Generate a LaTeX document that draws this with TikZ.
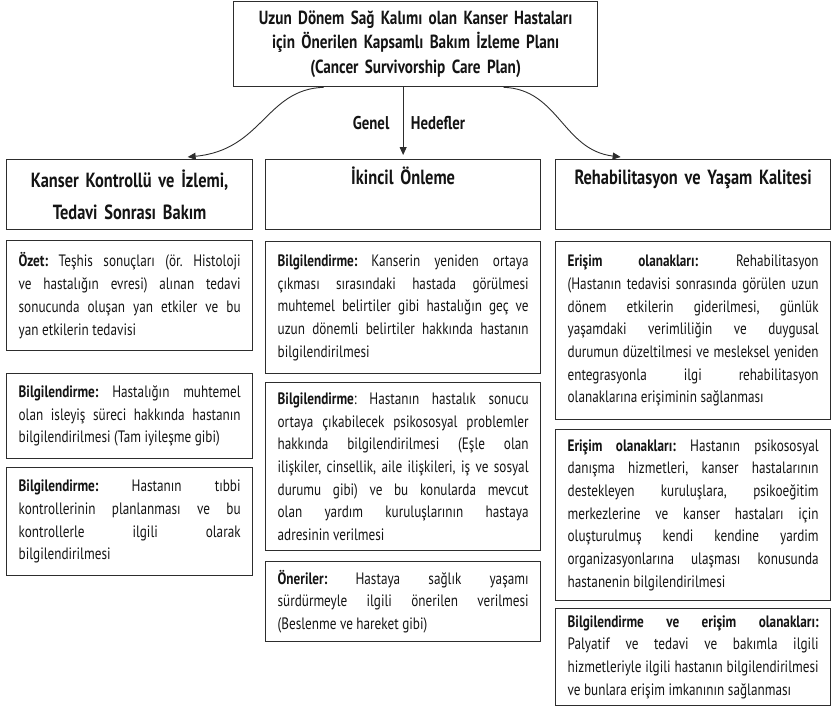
\documentclass[tikz,border=0pt]{standalone}
\usepackage{fontspec}
\setmainfont{PT Sans}[FakeStretch=0.8]
\usetikzlibrary{arrows.meta,positioning,calc}
\definecolor{boxline}{RGB}{45,45,45}
\definecolor{inktext}{RGB}{20,20,20}
\newcommand{\bodyfont}{\fontsize{16.5}{22.7}\selectfont}
\newcommand{\headfont}{\fontsize{20.5}{32}\selectfont\bfseries}
\setlength{\parindent}{0pt}
\frenchspacing
\hyphenpenalty=10000
\exhyphenpenalty=10000
\tolerance=9999
\emergencystretch=20pt

\begin{document}
\begin{tikzpicture}[x=1pt,y=-1pt,
  every node/.append style={text=inktext},
  plan/.style={draw=boxline, line width=1.3pt, anchor=north west, inner xsep=10pt, align=center, font=\fontsize{19}{24.5}\selectfont\bfseries},
  headbox/.style={draw=boxline, line width=1.3pt, anchor=north west, align=center, inner xsep=8pt, inner ysep=6pt, minimum height=70pt, font=\headfont},
  oneline/.style={text height=19pt, text depth=39pt},
  infobox/.style={draw=boxline, line width=1.3pt, anchor=north west, align=justify, inner xsep=12pt, inner ysep=4pt, font=\bodyfont},
  goal/.style={-{Triangle[length=8pt,width=7pt]}, line width=0.9pt, draw=boxline}]
  \useasboundingbox (0,0) rectangle (831,712);
  \node[plan, text width=344pt, minimum height=85pt] (plan) at (233,1) {Uzun Dönem Sağ Kalımı olan Kanser Hastaları\\ için Önerilen Kapsamlı Bakım İzleme Planı\\ (Cancer Survivorship Care Plan)};
  \node[headbox, text width=230pt] (kontrol) at (6,159) {Kanser Kontrollü ve İzlemi,\\ Tedavi Sonrası Bakım};
  \node[headbox, oneline, text width=259pt] (onleme) at (265,159) {İkincil Önleme};
  \node[headbox, oneline, text width=259pt] (rehab) at (555,159) {Rehabilitasyon ve Yaşam Kalitesi};
  \draw[goal, shorten >=4pt] (plan.south -| onleme.north) -- node[left=10pt, font=\fontsize{18.5}{20}\selectfont\bfseries] (genel) {Genel} node[right=4pt, font=\fontsize{18.5}{20}\selectfont\bfseries] (hedef) {Hedefler} (onleme.north);
  \draw[goal] ($(plan.south)+(-92,0)$) .. controls ($(plan.south)+(-150,2)$) and ($(kontrol.north)+(133,-9)$) .. ($(kontrol.north)+(58,-2)$);
  \draw[goal] ($(plan.south)+(88,0)$) .. controls ($(plan.south)+(143,2)$) and ($(rehab.north)+(-130.5,-9)$) .. ($(rehab.north)+(-72.5,-2)$);
  \node[infobox, text width=222pt, minimum height=110pt] (ozet) at (6,240) {\textbf{Özet:} Teşhis sonuçları (ör. Histoloji\linebreak ve hastalığın evresi) alınan tedavi\linebreak sonucunda oluşan yan etkiler ve bu\linebreak yan etkilerin tedavisi};
  \node[infobox, text width=222pt, minimum height=85pt] (seyir) at (6,373) {\textbf{Bilgilendirme:} Hastalığın muhtemel\linebreak olan isleyiş süreci hakkında hastanın\linebreak bilgilendirilmesi (Tam iyileşme gibi)};
  \node[infobox, text width=222pt, minimum height=108pt] (tibbi) at (6,467) {\textbf{Bilgilendirme:} Hastanın tıbbi\linebreak kontrollerinin planlanması ve bu\linebreak kontrollerle ilgili olarak\linebreak bilgilendirilmesi};
  \node[infobox, text width=251pt, minimum height=132pt] (belirti) at (265,241) {\textbf{Bilgilendirme:} Kanserin yeniden ortaya\linebreak çıkması sırasındaki hastada görülmesi\linebreak muhtemel belirtiler gibi hastalığın geç ve\linebreak uzun dönemli belirtiler hakkında hastanın\linebreak bilgilendirilmesi};
  \node[infobox, text width=251pt, minimum height=168pt] (psiko) at (265,382) {\textbf{Bilgilendirme}: Hastanın hastalık sonucu\linebreak ortaya çıkabilecek psikososyal problemler\linebreak hakkında bilgilendirilmesi (Eşle olan\linebreak ilişkiler, cinsellik, aile ilişkileri, iş ve sosyal\linebreak durumu gibi) ve bu konularda mevcut\linebreak olan yardım kuruluşlarının hastaya\linebreak adresinin verilmesi};
  \node[infobox, text width=251pt, minimum height=80pt] (oneri) at (265,561) {\textbf{Öneriler:} Hastaya sağlık yaşamı\linebreak sürdürmeyle ilgili önerilen verilmesi\linebreak (Beslenme ve hareket gibi)};
  \node[infobox, text width=251pt, minimum height=178pt] (erisim) at (555,241) {\textbf{Erişim olanakları:} Rehabilitasyon\linebreak (Hastanın tedavisi sonrasında görülen uzun\linebreak dönem etkilerin giderilmesi, günlük\linebreak yaşamdaki verimliliğin ve duygusal\linebreak durumun düzeltilmesi ve mesleksel yeniden\linebreak entegrasyonla ilgi rehabilitasyon\linebreak olanaklarına erişiminin sağlanması};
  \node[infobox, text width=251pt, minimum height=171pt] (danisma) at (555,429) {\textbf{Erişim olanakları:} Hastanın psikososyal\linebreak danışma hizmetleri, kanser hastalarının\linebreak destekleyen kuruluşlara, psikoeğitim\linebreak merkezlerine ve kanser hastaları için\linebreak oluşturulmuş kendi kendine yardim\linebreak organizasyonlarına ulaşması konusunda\linebreak hastanenin bilgilendirilmesi};
  \node[infobox, text width=251pt, minimum height=97pt] (palyatif) at (555,608) {\textbf{Bilgilendirme ve erişim olanakları:}\linebreak Palyatif ve tedavi ve bakımla ilgili\linebreak hizmetleriyle ilgili hastanın bilgilendirilmesi\linebreak ve bunlara erişim imkanının sağlanması};
\end{tikzpicture}
\end{document}
